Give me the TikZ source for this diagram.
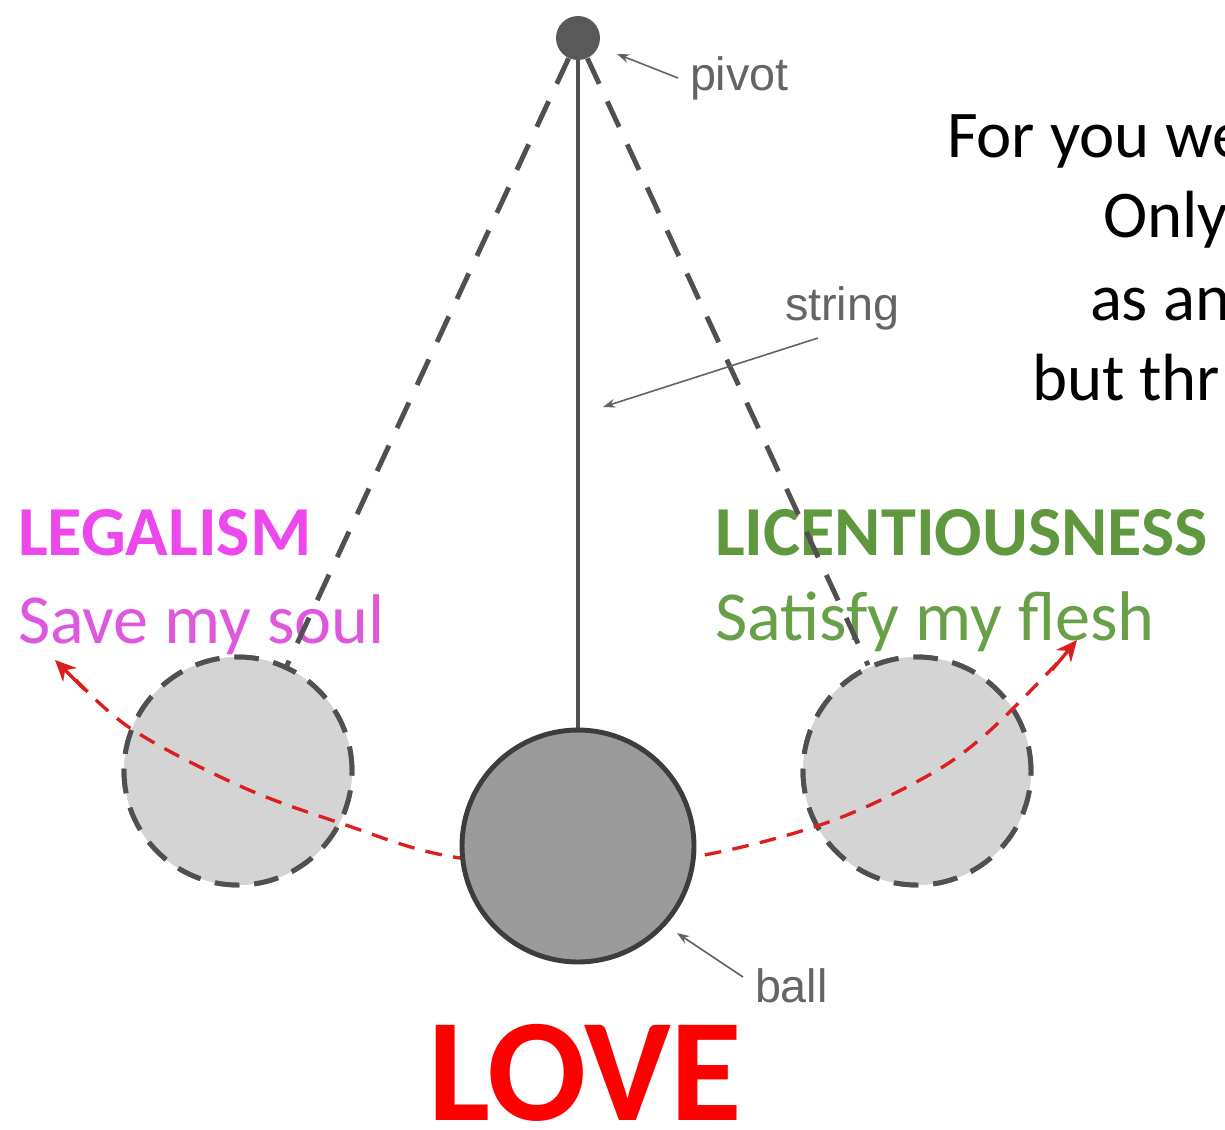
\documentclass[tikz,border=0pt]{standalone}
\usepackage{fontspec}
\setmainfont{Carlito}
\newfontfamily\labelfont{Liberation Sans}
\usetikzlibrary{arrows.meta}
\definecolor{legalbold}{RGB}{236,72,236}
\definecolor{legalreg}{RGB}{222,88,222}
\definecolor{licbold}{RGB}{96,152,64}
\definecolor{licreg}{RGB}{104,160,72}
\definecolor{lovered}{RGB}{255,0,0}
\definecolor{labelgray}{RGB}{100,100,100}
\definecolor{linegray}{RGB}{80,80,80}
\definecolor{ballfill}{RGB}{155,155,155}
\definecolor{ghostfill}{RGB}{212,212,212}
\definecolor{arcred}{RGB}{220,30,30}
\tikzset{
  txt/.style={anchor=base west, inner sep=0pt, outer sep=0pt},
  lbl/.style={txt, text=labelgray, font=\labelfont\fontsize{26.6}{30}\selectfont},
  lblarrow/.style={draw=linegray!90, line width=0.9pt, -{Stealth[length=7pt,width=5pt]}},
  swingline/.style={draw=linegray, line width=2.8pt, dash pattern=on 16pt off 11pt},
  ghost/.style={circle, minimum size=4.56cm, inner sep=0pt, fill=ghostfill, draw=linegray, line width=2.8pt, dash pattern=on 14pt off 8.5pt},
  arcstyle/.style={draw=arcred, line width=1.9pt, dash pattern=on 9.5pt off 6.5pt},
  arctip/.style={draw=arcred, solid, line width=1.9pt, -{Stealth[length=12pt,width=11pt,fill=arcred]}},
}
\begin{document}
\begin{tikzpicture}[x=0.02cm,y=-0.02cm]
\useasboundingbox (0,0) rectangle (1225,1130);
\clip (0,0) rectangle (1225,1130);

% texts
\node[txt, text=legalbold, font=\bfseries\fontsize{40}{48}\selectfont] (legal) at (18,555) {LEGALISM};
\node[txt, text=legalreg, font=\fontsize{40}{48}\selectfont] (soul) at (18,643) {Save my soul};
\node[txt, text=licbold, font=\bfseries\fontsize{40}{48}\selectfont] (lic) at (715,555) {LICENTIOUSNESS};
\node[txt, text=licreg, font=\fontsize{40}{48}\selectfont] (flesh) at (715,640) {Satisfy my flesh};
\node[txt, text=lovered, font=\bfseries\fontsize{83.5}{90}\selectfont] (love) at (428,1120) {LOVE};

\node[txt, font=\fontsize{38}{46}\selectfont] (v1) at (947,157) {For you we};
\node[txt, font=\fontsize{38}{46}\selectfont] (v2) at (1103,237) {Only};
\node[txt, font=\fontsize{38}{46}\selectfont] (v3) at (1090,320) {as an};
\node[txt, font=\fontsize{38}{46}\selectfont] (v4) at (1032,400) {but thr};

% geometry nodes
\coordinate (pc) at (578,38);
\node[circle, minimum size=0.88cm, inner sep=0pt] (pivot) at (pc) {};
\node[ghost] (ghostL) at (238,771) {};
\node[ghost] (ghostR) at (917,771) {};
\node[circle, minimum size=4.64cm, inner sep=0pt] (ball) at (578,846) {};

% swing lines
\draw[swingline] (pivot) -- (ghostL);
\draw[swingline] (pivot) -- (ghostR);
% redraw ghosts over line ends
\node[ghost] at (238,771) {};
\node[ghost] at (917,771) {};

% red arc
\coordinate (arcL) at (55,660);
\coordinate (arcLb) at (85,690);
\coordinate (arcR) at (1077,640);
\coordinate (arcRb) at (1052,670);
\draw[arcstyle] plot[smooth, tension=0.6] coordinates {(76,680) (133,730) (240,786) (340,823) (448,856) (578,866) (693,857) (820,825) (920,780) (985,735) (1062,658)};
\draw[arctip] (arcLb) -- (arcL);
\draw[arctip] (arcRb) -- (arcR);

% string and ball
\draw[draw=linegray, line width=2.3pt] (pivot.center) -- (ball.north);
\node[circle, minimum size=4.64cm, inner sep=0pt, fill=ballfill, draw=black!76, line width=2.8pt] at (578,846) {};
\node[circle, minimum size=0.88cm, inner sep=0pt, fill=linegray!95] at (pc) {};

% labels
\node[lbl] (lpivot) at (690,90) {pivot};
\node[lbl] (lstring) at (785,320) {string};
\node[lbl] (lball) at (755,1002) {ball};
\coordinate (fpivot) at (678,78);
\coordinate (fstring) at (818,338);
\coordinate (fball) at (743,977);
\coordinate (tpivot) at (617,54);
\coordinate (tstring) at (603,407);
\coordinate (tball) at (677,933);
\draw[lblarrow] (fpivot) -- (tpivot);
\draw[lblarrow] (fstring) -- (tstring);
\draw[lblarrow] (fball) -- (tball);
\end{tikzpicture}
\end{document}
